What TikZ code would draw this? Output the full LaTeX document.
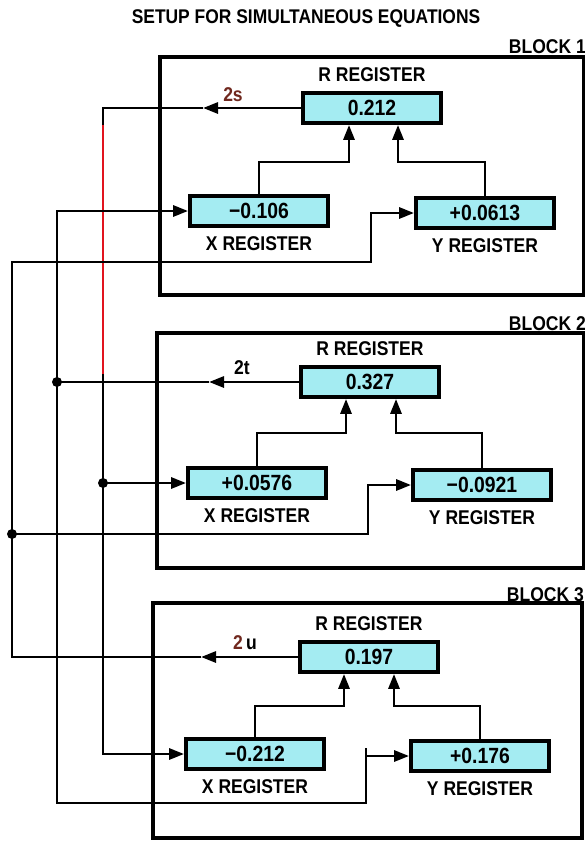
\documentclass[tikz,border=0pt]{standalone}
\usepackage{fontspec}
\setmainfont{Liberation Sans}[FakeStretch=0.88]
\usepackage{tikz}
\usetikzlibrary{arrows.meta, positioning}
\definecolor{regcyan}{RGB}{164,236,242}
\definecolor{tagbrown}{RGB}{112,40,30}
\definecolor{inkred}{RGB}{225,20,30}
\tikzset{
  register/.style={rectangle, draw=black, fill=regcyan, line width=3.8pt,
    minimum width=138pt, minimum height=30pt, inner sep=0pt,
    font=\fontsize{22}{22}\selectfont\bfseries},
  caption/.style={inner sep=0pt, font=\fontsize{19.9}{19.9}\selectfont\bfseries},
  frame/.style={line width=4pt},
  wire/.style={line width=2.9pt},
  arrow/.style={wire, -{Triangle[length=15pt,width=11pt]}},
  twoway/.style={wire, {Triangle[length=15pt,width=11pt]}-{Triangle[length=15pt,width=11pt]}},
  junction/.style={circle, fill=black, inner sep=0pt, minimum size=10pt}
}

\begin{document}
\begin{tikzpicture}[x=1pt, y=-1pt]
  \useasboundingbox (0,0) rectangle (585,844);
  \node[caption, font=\fontsize{19.8}{19.8}\selectfont\bfseries] (title) at (306,19) {SETUP FOR SIMULTANEOUS EQUATIONS};

  % Block 1
  \draw[frame] (160,57) rectangle (584,295);
  \node[caption, anchor=base east] (blk1) at (586,53) {BLOCK 1};
  \node[register] (r1) at (372,108) {0.212};
  \node[register] (x1) at (259,211) {−0.106};
  \node[register] (y1) at (485,213) {+0.0613};
  \node[caption, above=9pt of r1] (r1lbl) {R REGISTER};
  \node[caption, below=8pt of x1] (x1lbl) {X REGISTER};
  \node[caption, below=8pt of y1] (y1lbl) {Y REGISTER};
  \node[caption, text=tagbrown] (tag1) at (233,95) {2s};
  \coordinate (o1) at (203,108);
  \coordinate (jx1) at (349,162);
  \coordinate (jy1) at (398,162);
  \draw[arrow] (x1.north) |- (jx1) -- (jx1 |- r1.south);
  \draw[arrow] (y1.north) |- (jy1) -- (jy1 |- r1.south);
  \draw[arrow] (r1.west) -- (o1);

  % Block 2
  \draw[frame] (157,333) rectangle (584,568);
  \node[caption, anchor=base east] (blk2) at (586,330) {BLOCK 2};
  \node[register] (r2) at (370,382) {0.327};
  \node[register] (x2) at (257,483) {+0.0576};
  \node[register] (y2) at (482,485) {−0.0921};
  \node[caption, above=9pt of r2] (r2lbl) {R REGISTER};
  \node[caption, below=8pt of x2] (x2lbl) {X REGISTER};
  \node[caption, below=8pt of y2] (y2lbl) {Y REGISTER};
  \node[caption] (tag2) at (242,368) {2t};
  \coordinate (o2) at (209,382);
  \coordinate (jx2) at (346,433);
  \coordinate (jy2) at (396,433);
  \draw[arrow] (x2.north) |- (jx2) -- (jx2 |- r2.south);
  \draw[arrow] (y2.north) |- (jy2) -- (jy2 |- r2.south);
  \draw[arrow] (r2.west) -- (o2);

  % Block 3
  \draw[frame] (153,603) rectangle (582,838);
  \node[caption, anchor=base east] (blk3) at (584,601) {BLOCK 3};
  \node[register] (r3) at (369,657) {0.197};
  \node[register] (x3) at (255,754) {−0.212};
  \node[register] (y3) at (480,756) {+0.176};
  \node[caption, above=9pt of r3] (r3lbl) {R REGISTER};
  \node[caption, below=8pt of x3] (x3lbl) {X REGISTER};
  \node[caption, below=8pt of y3] (y3lbl) {Y REGISTER};
  \node[caption] (tag3) at (245,643) {\textcolor{tagbrown}{2}\,u};
  \coordinate (o3) at (201,657);
  \coordinate (jx3) at (344,706);
  \coordinate (jy3) at (394,706);
  \draw[arrow] (x3.north) |- (jx3) -- (jx3 |- r3.south);
  \draw[arrow] (y3.north) |- (jy3) -- (jy3 |- r3.south);
  \draw[arrow] (r3.west) -- (o3);

  % feedback buses
  \coordinate (a1) at (103,108);
  \coordinate (a2) at (103,483);
  \coordinate (a3) at (103,754);
  \coordinate (ra) at (103,125);
  \coordinate (rb) at (103,374);
  \coordinate (b1) at (57,211);
  \coordinate (b2) at (57,382);
  \coordinate (b3) at (57,803);
  \coordinate (c1) at (12,262);
  \coordinate (c2) at (12,534);
  \coordinate (ky1) at (371,213);
  \coordinate (ky2) at (368,485);
  \coordinate (ky3) at (366,756);
  \coordinate (kt3) at (366,748);

  % 2s
  \draw[wire] (o1) -- (a1) -- (a2);
  \draw[wire, draw=inkred, line width=2pt] (ra) -- (rb);
  \draw[arrow] (a2) -- (a3) -- (x3.west);
  \draw[arrow] (a2) -- (x2.west);
  \node[junction] (ja) at (a2) {};
  % 2t
  \draw[wire] (o2) -- (b2);
  \draw[twoway] (x1.west) -- (b1) -- (b3) -| (ky3) -- (y3.west);
  \draw[wire] (ky3) -- (kt3);
  \node[junction] (jb) at (b2) {};
  % 2u
  \draw[arrow] (o3) -| (c1) -| (ky1) -- (y1.west);
  \draw[arrow] (c2) -| (ky2) -- (y2.west);
  \node[junction] (jc) at (c2) {};
\end{tikzpicture}
\end{document}
